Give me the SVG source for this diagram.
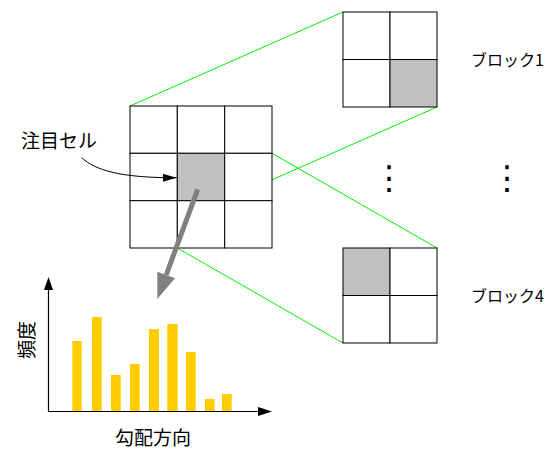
<svg xmlns="http://www.w3.org/2000/svg" width="552" height="450" viewBox="0 0 552 450">
<style>
.cell{fill:#fff;stroke:#000;stroke-width:1}
.hot{fill:#c0c0c0;stroke:#000;stroke-width:1}
.green{stroke:#00ee00;stroke-width:1;fill:none}
.lbl{font-family:"Noto Sans CJK JP","Liberation Sans",sans-serif;fill:#000}
.dots{font-family:"DejaVu Sans",sans-serif;font-size:33px;fill:#000}
.bar{fill:#ffcc00}
.axis{stroke:#000;stroke-width:1.2;fill:none}
</style>
<defs>
<marker id="ah" viewBox="0 0 14 8" refX="14" refY="4" markerWidth="14" markerHeight="8" markerUnits="userSpaceOnUse" orient="auto">
<path d="M0,0 L14,4 L0,8 Z" fill="#000"/>
</marker>
</defs>
<g id="connectors">
<line class="green" x1="130" y1="106" x2="343" y2="12"/>
<line class="green" x1="224.7" y1="200.7" x2="437" y2="107"/>
<line class="green" x1="272" y1="153.3" x2="437" y2="248"/>
<line class="green" x1="177.3" y1="248" x2="343" y2="343"/>
</g>
<g id="main-grid">
<rect class="cell" x="130" y="106" width="47.3" height="47.3"/>
<rect class="cell" x="177.3" y="106" width="47.4" height="47.3"/>
<rect class="cell" x="224.7" y="106" width="47.3" height="47.3"/>
<rect class="cell" x="130" y="153.3" width="47.3" height="47.4"/>
<rect class="hot" x="177.3" y="153.3" width="47.4" height="47.4"/>
<rect class="cell" x="224.7" y="153.3" width="47.3" height="47.4"/>
<rect class="cell" x="130" y="200.7" width="47.3" height="47.3"/>
<rect class="cell" x="177.3" y="200.7" width="47.4" height="47.3"/>
<rect class="cell" x="224.7" y="200.7" width="47.3" height="47.3"/>
</g>
<g id="block1">
<rect class="cell" x="343" y="12" width="47" height="47.5"/>
<rect class="cell" x="390" y="12" width="47" height="47.5"/>
<rect class="cell" x="343" y="59.5" width="47" height="47.5"/>
<rect class="hot" x="390" y="59.5" width="47" height="47.5"/>
</g>
<g id="block4">
<rect class="hot" x="343" y="248" width="47" height="47.5"/>
<rect class="cell" x="390" y="248" width="47" height="47.5"/>
<rect class="cell" x="343" y="295.5" width="47" height="47.5"/>
<rect class="cell" x="390" y="295.5" width="47" height="47.5"/>
</g>
<g id="label-block1"><text class="lbl" x="471" y="66" font-size="16">ブロック1</text></g>
<g id="label-block4"><text class="lbl" x="471" y="302" font-size="16">ブロック4</text></g>
<g id="ellipsis1"><text class="dots" x="389" y="177.5" text-anchor="middle" dominant-baseline="central">⋮</text></g>
<g id="ellipsis2"><text class="dots" x="507" y="177.5" text-anchor="middle" dominant-baseline="central">⋮</text></g>
<g id="label-cell"><text class="lbl" x="21" y="148" font-size="19">注目セル</text></g>
<g id="pointer-arrows">
<path d="M81.7,157.7 C95,170 120,178 176.7,177.7" fill="none" stroke="#000" stroke-width="1" marker-end="url(#ah)"/>
<line x1="197.7" y1="189.3" x2="166.2" y2="275" stroke="#808080" stroke-width="5"/>
<polygon points="157.3,299 157.3,271.7 175,278.3" fill="#808080"/>
</g>
<g id="histogram">
<rect class="bar" x="72.3" y="341" width="9.4" height="70.5"/>
<rect class="bar" x="92" y="317" width="9.7" height="94.5"/>
<rect class="bar" x="111" y="375" width="9.7" height="36.5"/>
<rect class="bar" x="130" y="364" width="9.7" height="47.5"/>
<rect class="bar" x="149" y="329" width="10" height="82.5"/>
<rect class="bar" x="167.3" y="324" width="10.4" height="87.5"/>
<rect class="bar" x="186" y="352" width="9.7" height="59.5"/>
<rect class="bar" x="205" y="399" width="9.7" height="12.5"/>
<rect class="bar" x="222" y="394" width="9.7" height="17.5"/>
<line class="axis" x1="48.5" y1="411.5" x2="48.5" y2="289"/>
<polygon points="48.5,277 44,290 53,290" fill="#000"/>
<line class="axis" x1="48" y1="411.5" x2="259" y2="411.5"/>
<polygon points="272,411.5 258,407 258,416" fill="#000"/>
</g>
<g id="label-y"><text class="lbl" font-size="19" text-anchor="middle" transform="translate(34,340) rotate(-90)">頻度</text></g>
<g id="label-x"><text class="lbl" x="115" y="444.5" font-size="19">勾配方向</text></g>
</svg>
